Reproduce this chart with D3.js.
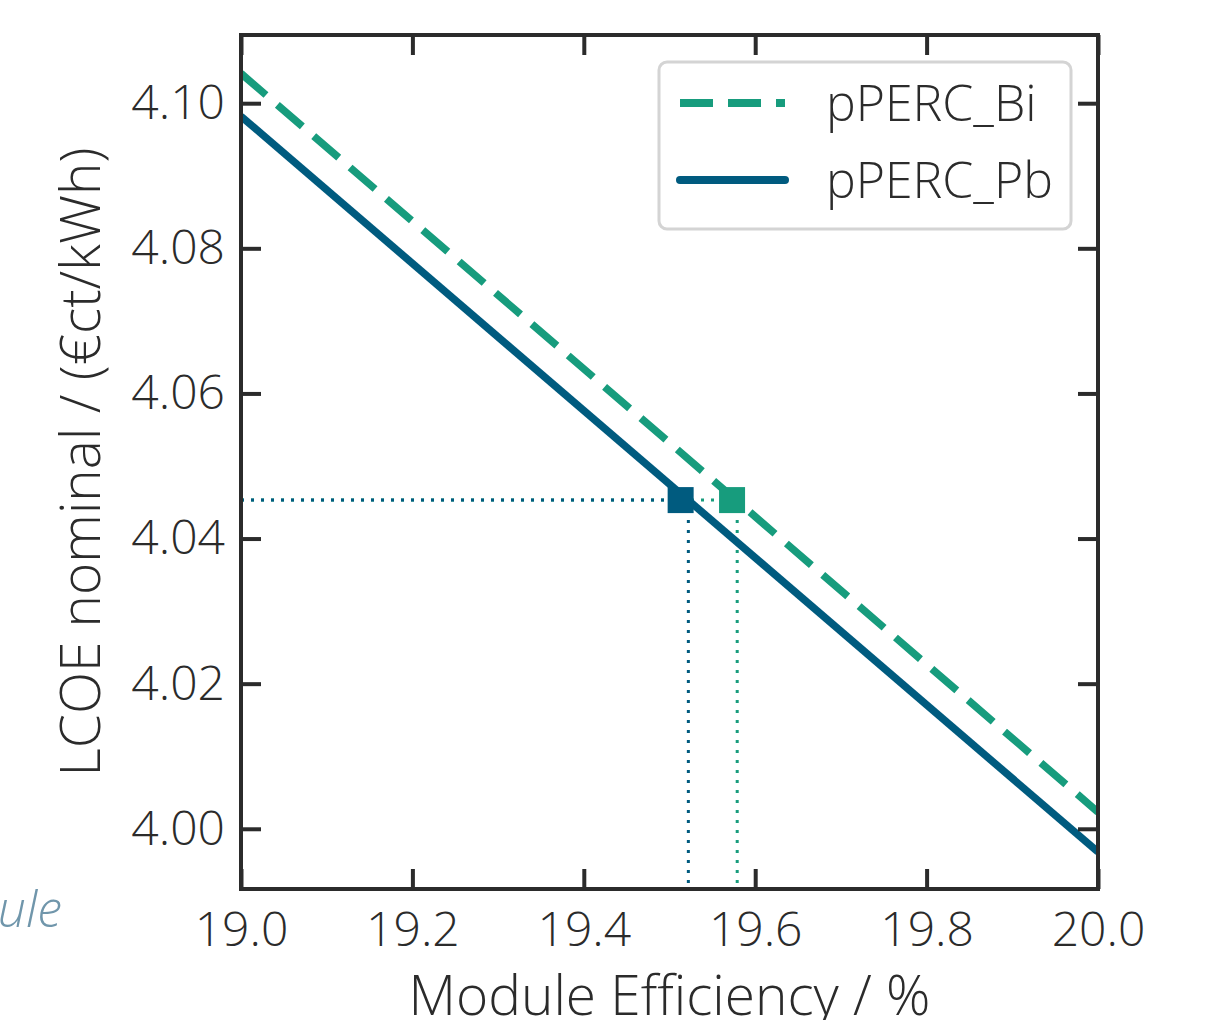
<html>
<head>
<script src="https://d3js.org/d3.v7.min.js"></script>
<style>
  body { margin: 0; background: #fff; }
  text { font-family: "Open Sans", "Noto Sans", sans-serif; fill: #2b2b2b; }
</style>
</head>
<body>
<svg width="1211" height="1020"></svg>
<script>
// series: module efficiency (%) vs LCOE (€ct/kWh), straight lines
const effEnds = [19.0, 20.0];
const lcoeBi = [4.1041, 4.0023];
const lcoePb = [4.0982, 3.9968];
// marked points and guide lines
const markEff = { Bi: 19.573, Pb: 19.513 };
const guideEff = { Bi: 19.579, Pb: 19.522 };
const markLcoe = 4.0453;
const xTicks = [19.0, 19.2, 19.4, 19.6, 19.8, 20.0];
const yTicks = [4.00, 4.02, 4.04, 4.06, 4.08, 4.10];

const GREEN = '#179c7d', BLUE = '#005b7f';

const svg = d3.select('svg');
const L = 241, R = 1098, T = 35, B = 889;
const x = d3.scaleLinear().domain([19.0, 20.0]).range([L, R]);
const y = d3.scaleLinear().domain([3.9917, 4.1094]).range([B, T]);

const plot = svg.append('g');
plot.append('clipPath').attr('id', 'clip')
  .append('rect').attr('x', L).attr('y', T).attr('width', R - L).attr('height', B - T);
const g = plot.append('g').attr('clip-path', 'url(#clip)');

// dotted guide lines
[['Bi', GREEN], ['Pb', BLUE]].forEach(([k, c]) => {
  g.append('line').attr('x1', x(19.0)).attr('x2', x(markEff[k]))
    .attr('y1', y(markLcoe)).attr('y2', y(markLcoe))
    .attr('stroke', c).attr('stroke-width', 3).attr('stroke-dasharray', '3,7');
  g.append('line').attr('x1', x(guideEff[k])).attr('x2', x(guideEff[k]))
    .attr('y1', y(markLcoe)).attr('y2', y.range()[0])
    .attr('stroke', c).attr('stroke-width', 3).attr('stroke-dasharray', '3,7');
});

const line = d3.line().x(d => x(d[0])).y(d => y(d[1]));
g.append('path').datum(effEnds.map((e, i) => [e, lcoePb[i]]))
  .attr('d', line).attr('fill', 'none').attr('stroke', BLUE).attr('stroke-width', 7.5);
g.append('path').datum(effEnds.map((e, i) => [e, lcoeBi[i]]))
  .attr('d', line).attr('fill', 'none').attr('stroke', GREEN).attr('stroke-width', 7.5)
  .attr('stroke-dasharray', '33,15');

// markers
[['Pb', BLUE], ['Bi', GREEN]].forEach(([k, c]) => {
  g.append('rect').attr('x', x(markEff[k]) - 13).attr('y', y(markLcoe) - 13)
    .attr('width', 26).attr('height', 26).attr('fill', c);
});

// axes with inward ticks on all sides
function styleAxis(sel) {
  sel.select('.domain').remove();
  sel.selectAll('.tick line').attr('stroke', '#2b2b2b').attr('stroke-width', 4);
  sel.selectAll('.tick text').style('font-size', '48px').style('font-weight', 300).attr('fill', '#2b2b2b');
}
svg.append('g').attr('transform', `translate(0,${B})`)
  .call(d3.axisBottom(x).tickValues(xTicks).tickFormat(d3.format('.1f')).tickSizeInner(-20).tickPadding(23))
  .call(styleAxis);
svg.append('g').attr('transform', `translate(0,${T})`)
  .call(d3.axisTop(x).tickValues(xTicks).tickFormat('').tickSizeInner(-20))
  .call(styleAxis);
svg.append('g').attr('transform', `translate(${L},0)`)
  .call(d3.axisLeft(y).tickValues(yTicks).tickFormat(d3.format('.2f')).tickSizeInner(-20).tickPadding(16))
  .call(styleAxis);
svg.append('g').attr('transform', `translate(${R},0)`)
  .call(d3.axisRight(y).tickValues(yTicks).tickFormat('').tickSizeInner(-20))
  .call(styleAxis);

svg.append('rect').attr('x', L).attr('y', T).attr('width', R - L).attr('height', B - T)
  .attr('fill', 'none').attr('stroke', '#2b2b2b').attr('stroke-width', 4);

// axis titles
svg.append('text').attr('x', (L + R) / 2).attr('y', 1015).attr('text-anchor', 'middle')
  .style('font-size', '55px').style('font-weight', 300).text('Module Efficiency / %');
svg.append('text').attr('transform', `translate(100,${(T + B) / 2}) rotate(-90)`)
  .attr('text-anchor', 'middle').style('font-size', '55px').style('font-weight', 300)
  .text('LCOE nominal / (€ct/kWh)');

// stray text fragment at left
svg.append('text').attr('x', 62).attr('y', 927).attr('text-anchor', 'end')
  .style('font-size', '50px').style('font-style', 'italic').style('font-weight', 300)
  .style('fill', '#7096ab').text('ule');

// legend
const lg = svg.append('g');
lg.append('rect').attr('x', 659).attr('y', 62).attr('width', 412).attr('height', 167)
  .attr('rx', 8).attr('fill', '#fff').attr('stroke', '#d4d4d4').attr('stroke-width', 3);
const legendItems = [
  { name: 'pPERC_Bi', color: GREEN, dash: '33,15', y: 103 },
  { name: 'pPERC_Pb', color: BLUE, dash: null, y: 180 }
];
legendItems.forEach(d => {
  lg.append('line').attr('x1', 680).attr('x2', 785).attr('y1', d.y).attr('y2', d.y)
    .attr('stroke', d.color).attr('stroke-width', 8).attr('stroke-linecap', d.dash ? 'butt' : 'round')
    .attr('stroke-dasharray', d.dash);
  lg.append('text').attr('x', 826).attr('y', d.y + 18)
    .style('font-size', '50px').style('font-weight', 300).text(d.name);
});
</script>
</body>
</html>
